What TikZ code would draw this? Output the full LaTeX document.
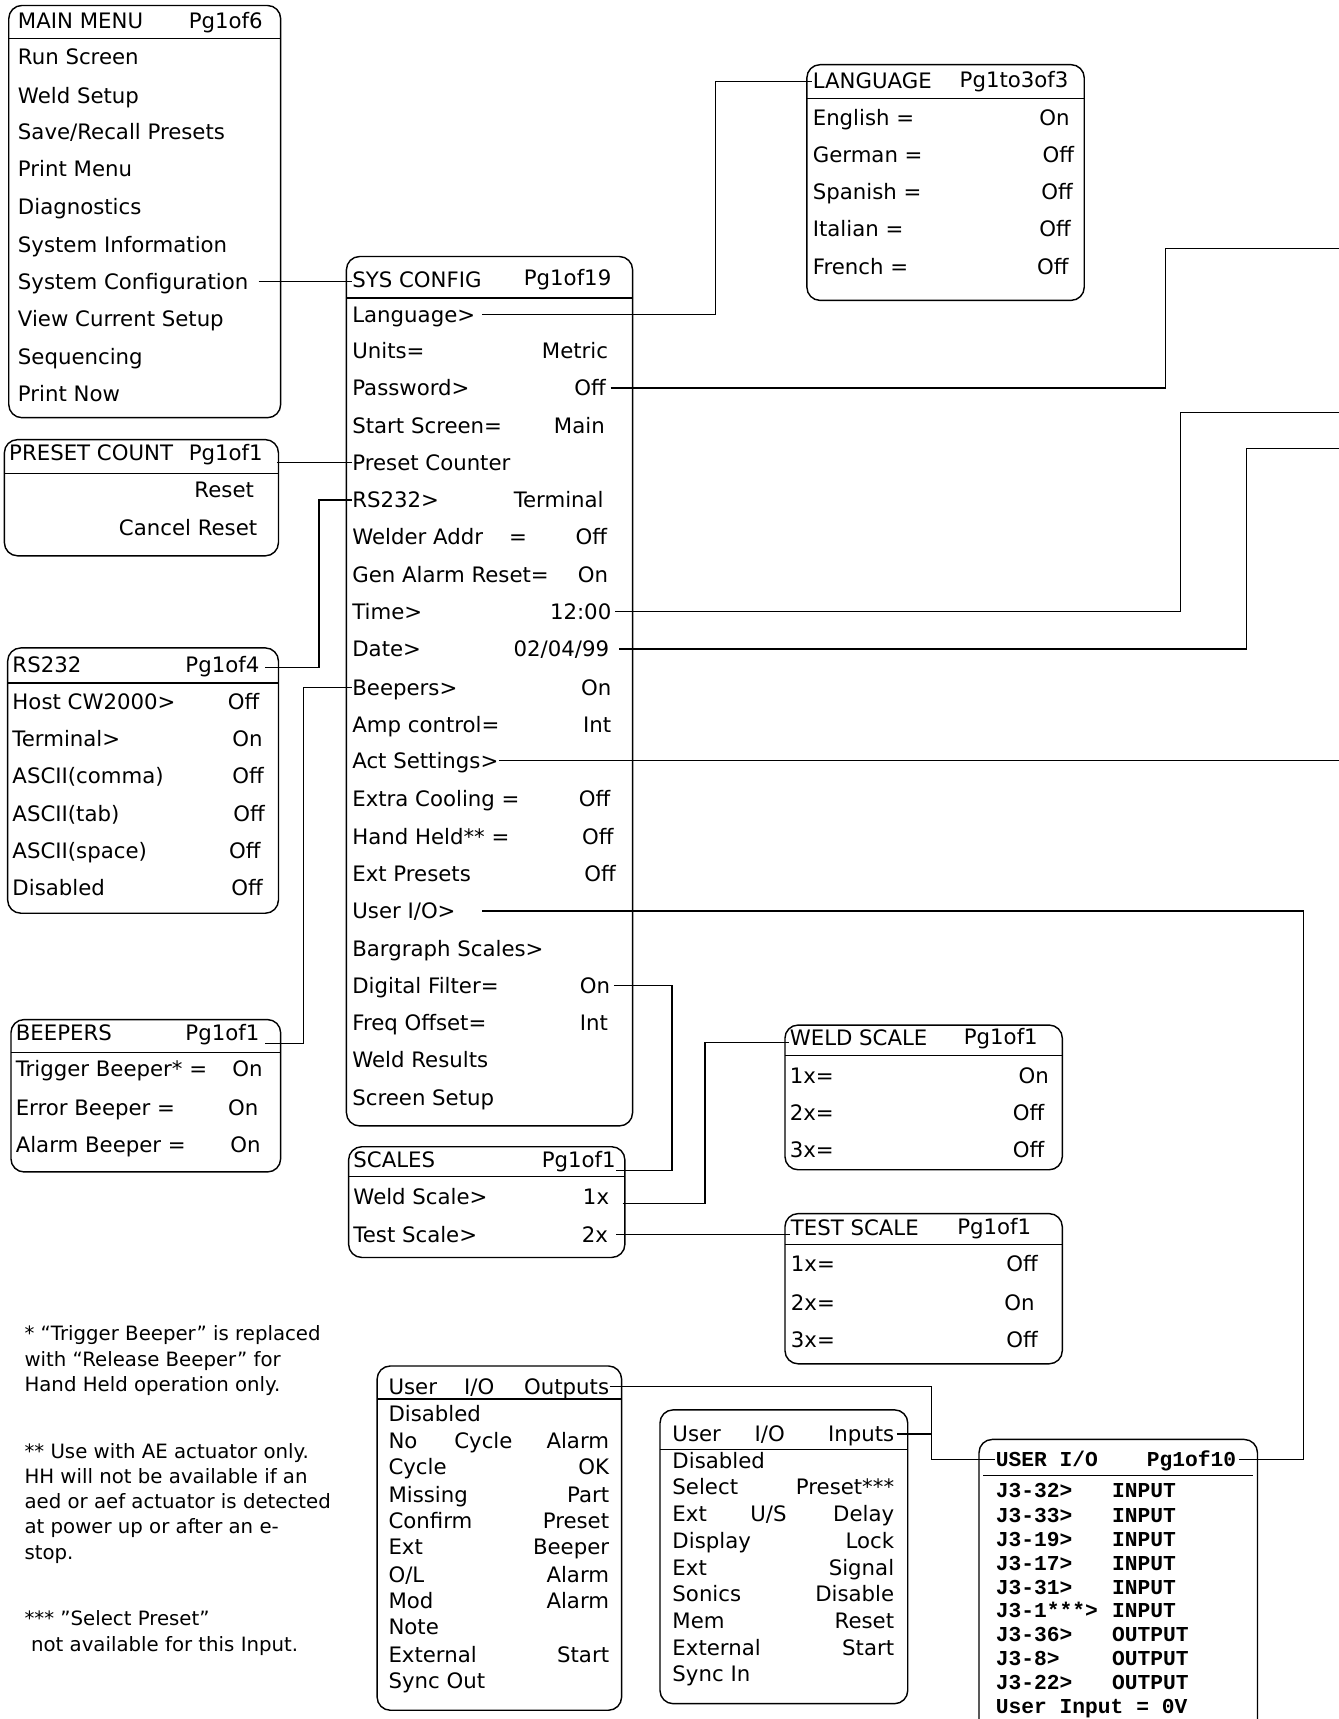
\documentclass[tikz,border=0pt]{standalone}
\usepackage{fontspec}
\newfontfamily\vf{DejaVu Sans}
\newfontfamily\mono{Liberation Mono}
\begin{document}
\begin{tikzpicture}[x=0.5pt,y=-0.5pt,
  menubox/.style={draw, line width=0.65pt, rounded corners=6pt},
  hline/.style={draw, line width=0.65pt},
  conn/.style={draw, line width=0.55pt},
  txtL/.style={inner sep=0pt, text height=7.07pt, text depth=0pt, anchor=west, font=\vf\fontsize{9.7}{11.6}\selectfont},
  txtR/.style={txtL, anchor=east},
  monoL/.style={inner sep=0pt, text height=6.3pt, text depth=0pt, anchor=west, font=\mono\bfseries\fontsize{9.7}{11.6}\selectfont},
  monoR/.style={monoL, anchor=east},
  notetxt/.style={inner sep=0pt, anchor=north west, align=left, font=\vf\fontsize{9.0}{11.5}\selectfont}]
\useasboundingbox (0,0) rectangle (1221,1568);

% ---------------- MAIN MENU
\draw[menubox] (8,5) rectangle (256,381);
\draw[hline] (8,35) -- (256,35);
\node[txtL] (mmT) at (16,19) {MAIN MENU};
\node[txtR] (mmP) at (240,19) {Pg1of6};
\node[txtL] (mm1) at (16,52) {Run Screen};
\node[txtL] (mm2) at (16,87) {Weld Setup};
\node[txtL] (mm3) at (16,120) {Save/Recall Presets};
\node[txtL] (mm4) at (16,154) {Print Menu};
\node[txtL] (mm5) at (16,189) {Diagnostics};
\node[txtL] (mm6) at (16,223) {System Information};
\node[txtL] (mm7) at (16,257) {System Configuration};
\node[txtL] (mm8) at (16,291) {View Current Setup};
\node[txtL] (mm9) at (16,325) {Sequencing};
\node[txtL] (mm10) at (16,359) {Print Now};

% ---------------- SYS CONFIG
\draw[menubox] (316,234) rectangle (577,1027);
\draw[hline] (316,272) -- (577,272);
\node[txtL] (scT) at (321,255) {SYS CONFIG};
\node[txtR] (scP) at (558,253) {Pg1of19};
\node[txtL] (sc1) at (321,287) {Language>};
\node[txtL] (sc2) at (321,320) {Units=};
\node[txtR] (sc2v) at (555,320) {Metric};
\node[txtL] (sc3) at (321,354) {Password>};
\node[txtR] (sc3v) at (553,354) {Off};
\node[txtL] (sc4) at (321,388) {Start Screen=};
\node[txtR] (sc4v) at (552,388) {Main};
\node[txtL] (sc5) at (321,422) {Preset Counter};
\node[txtL] (sc6) at (321,456) {RS232>};
\node[txtR] (sc6v) at (551,456) {Terminal};
\node[txtL] (sc7) at (321,490) {Welder Addr};
\node[txtL] (sc7e) at (464,490) {=};
\node[txtR] (sc7v) at (554,490) {Off};
\node[txtL] (sc8) at (321,524) {Gen Alarm Reset=};
\node[txtR] (sc8v) at (555,524) {On};
\node[txtL] (sc9) at (321,558) {Time>};
\node[txtR] (sc9v) at (558,558) {12:00};
\node[txtL] (sc10) at (321,592) {Date>};
\node[txtR] (sc10v) at (556,592) {02/04/99};
\node[txtL] (sc11) at (321,627) {Beepers>};
\node[txtR] (sc11v) at (558,627) {On};
\node[txtL] (sc12) at (321,661) {Amp control=};
\node[txtR] (sc12v) at (558,661) {Int};
\node[txtL] (sc13) at (321,694) {Act Settings>};
\node[txtL] (sc14) at (321,729) {Extra Cooling =};
\node[txtR] (sc14v) at (557,729) {Off};
\node[txtL] (sc15) at (321,763) {Hand Held** =};
\node[txtR] (sc15v) at (560,763) {Off};
\node[txtL] (sc16) at (321,797) {Ext Presets};
\node[txtR] (sc16v) at (562,797) {Off};
\node[txtL] (sc17) at (321,831) {User I/O>};
\node[txtL] (sc18) at (321,865) {Bargraph Scales>};
\node[txtL] (sc19) at (321,899) {Digital Filter=};
\node[txtR] (sc19v) at (557,899) {On};
\node[txtL] (sc20) at (321,933) {Freq Offset=};
\node[txtR] (sc20v) at (555,933) {Int};
\node[txtL] (sc21) at (321,967) {Weld Results};
\node[txtL] (sc22) at (321,1001) {Screen Setup};

% ---------------- LANGUAGE
\draw[menubox] (736,59) rectangle (989,274);
\draw[hline] (736,90) -- (989,90);
\node[txtL] (lgT) at (741,74) {LANGUAGE};
\node[txtR] (lgP) at (975,73) {Pg1to3of3};
\node[txtL] (lg1) at (741,107) {English =};
\node[txtR] (lg1v) at (976,107) {On};
\node[txtL] (lg2) at (741,141) {German =};
\node[txtR] (lg2v) at (980,141) {Off};
\node[txtL] (lg3) at (741,175) {Spanish =};
\node[txtR] (lg3v) at (979,175) {Off};
\node[txtL] (lg4) at (741,209) {Italian =};
\node[txtR] (lg4v) at (977,209) {Off};
\node[txtL] (lg5) at (741,243) {French =};
\node[txtR] (lg5v) at (975,243) {Off};

% ---------------- PRESET COUNT
\draw[menubox] (4,401) rectangle (254,507);
\draw[hline] (4,432) -- (254,432);
\node[txtL] (pcT) at (8,413) {PRESET COUNT};
\node[txtR] (pcP) at (240,413) {Pg1of1};
\node[txtR] (pc1) at (232,447) {Reset};
\node[txtR] (pc2) at (235,481) {Cancel Reset};

% ---------------- RS232
\draw[menubox] (7,591) rectangle (254,833);
\draw[hline] (7,623) -- (254,623);
\node[txtL] (rsT) at (11,606) {RS232};
\node[txtR] (rsP) at (237,606) {Pg1of4};
\node[txtL] (rs1) at (11,640) {Host CW2000>};
\node[txtR] (rs1v) at (237,640) {Off};
\node[txtL] (rs2) at (11,674) {Terminal>};
\node[txtR] (rs2v) at (240,674) {On};
\node[txtL] (rs3) at (11,708) {ASCII(comma)};
\node[txtR] (rs3v) at (241,708) {Off};
\node[txtL] (rs4) at (11,742) {ASCII(tab)};
\node[txtR] (rs4v) at (242,742) {Off};
\node[txtL] (rs5) at (11,776) {ASCII(space)};
\node[txtR] (rs5v) at (238,776) {Off};
\node[txtL] (rs6) at (11,810) {Disabled};
\node[txtR] (rs6v) at (240,810) {Off};

% ---------------- BEEPERS
\draw[menubox] (10,930) rectangle (256,1069);
\draw[hline] (10,960) -- (256,960);
\node[txtL] (bpT) at (14,942) {BEEPERS};
\node[txtR] (bpP) at (237,942) {Pg1of1};
\node[txtL] (bp1) at (14,975) {Trigger Beeper* =};
\node[txtR] (bp1v) at (240,975) {On};
\node[txtL] (bp2) at (14,1010) {Error Beeper =};
\node[txtR] (bp2v) at (236,1010) {On};
\node[txtL] (bp3) at (14,1044) {Alarm Beeper =};
\node[txtR] (bp3v) at (238,1044) {On};

% ---------------- SCALES
\draw[menubox] (318,1046) rectangle (570,1147);
\draw[hline] (318,1073) -- (570,1073);
\node[txtL] (slT) at (322,1058) {SCALES};
\node[txtR] (slP) at (562,1058) {Pg1of1};
\node[txtL] (sl1) at (322,1092) {Weld Scale>};
\node[txtR] (sl1v) at (556,1092) {1x};
\node[txtL] (sl2) at (322,1126) {Test Scale>};
\node[txtR] (sl2v) at (555,1126) {2x};

% ---------------- WELD SCALE
\draw[menubox] (716,935) rectangle (969,1067);
\draw[hline] (716,963) -- (969,963);
\node[txtL] (wsT) at (720,947) {WELD SCALE};
\node[txtR] (wsP) at (947,946) {Pg1of1};
\node[txtL] (ws1) at (720,981) {1x=};
\node[txtR] (ws1v) at (957,981) {On};
\node[txtL] (ws2) at (720,1015) {2x=};
\node[txtR] (ws2v) at (953,1015) {Off};
\node[txtL] (ws3) at (720,1049) {3x=};
\node[txtR] (ws3v) at (953,1049) {Off};

% ---------------- TEST SCALE
\draw[menubox] (716,1107) rectangle (969,1244);
\draw[hline] (716,1135) -- (969,1135);
\node[txtL] (tsT) at (721,1120) {TEST SCALE};
\node[txtR] (tsP) at (941,1119) {Pg1of1};
\node[txtL] (ts1) at (721,1153) {1x=};
\node[txtR] (ts1v) at (947,1153) {Off};
\node[txtL] (ts2) at (721,1188) {2x=};
\node[txtR] (ts2v) at (944,1188) {On};
\node[txtL] (ts3) at (721,1222) {3x=};
\node[txtR] (ts3v) at (947,1222) {Off};

% ---------------- USER I/O OUTPUTS
\draw[menubox] (344,1246) rectangle (567,1560);
\draw[hline] (344,1276) -- (567,1276);
\node[txtL] (oT1) at (354,1265) {User};
\node[txtL] (oT2) at (423,1265) {I/O};
\node[txtR] (oT3) at (556,1265) {Outputs};
\node[txtL] (o1) at (354,1290) {Disabled};
\node[txtL] (o2) at (354,1314) {No};
\node[txtL] (o2b) at (414,1314) {Cycle};
\node[txtR] (o2v) at (556,1314) {Alarm};
\node[txtL] (o3) at (354,1338) {Cycle};
\node[txtR] (o3v) at (556,1338) {OK};
\node[txtL] (o4) at (354,1363) {Missing};
\node[txtR] (o4v) at (556,1363) {Part};
\node[txtL] (o5) at (354,1387) {Confirm};
\node[txtR] (o5v) at (556,1387) {Preset};
\node[txtL] (o6) at (354,1411) {Ext};
\node[txtR] (o6v) at (556,1411) {Beeper};
\node[txtL] (o7) at (354,1436) {O/L};
\node[txtR] (o7v) at (556,1436) {Alarm};
\node[txtL] (o8) at (354,1460) {Mod};
\node[txtR] (o8v) at (556,1460) {Alarm};
\node[txtL] (o9) at (354,1484) {Note};
\node[txtL] (o10) at (354,1509) {External};
\node[txtR] (o10v) at (556,1509) {Start};
\node[txtL] (o11) at (354,1533) {Sync Out};

% ---------------- USER I/O INPUTS
\draw[menubox] (602,1286) rectangle (828,1554);
\draw[hline] (602,1322) -- (828,1322);
\node[txtL] (iT1) at (613,1308) {User};
\node[txtL] (iT2) at (688,1308) {I/O};
\node[txtR] (iT3) at (816,1308) {Inputs};
\node[txtL] (i1) at (613,1332) {Disabled};
\node[txtL] (i2) at (613,1356) {Select};
\node[txtR] (i2v) at (816,1356) {Preset***};
\node[txtL] (i3) at (613,1381) {Ext};
\node[txtL] (i3b) at (684,1381) {U/S};
\node[txtR] (i3v) at (816,1381) {Delay};
\node[txtL] (i4) at (613,1405) {Display};
\node[txtR] (i4v) at (816,1405) {Lock};
\node[txtL] (i5) at (613,1430) {Ext};
\node[txtR] (i5v) at (816,1430) {Signal};
\node[txtL] (i6) at (613,1454) {Sonics};
\node[txtR] (i6v) at (816,1454) {Disable};
\node[txtL] (i7) at (613,1478) {Mem};
\node[txtR] (i7v) at (816,1478) {Reset};
\node[txtL] (i8) at (613,1503) {External};
\node[txtR] (i8v) at (816,1503) {Start};
\node[txtL] (i9) at (613,1527) {Sync In};

% ---------------- USER I/O (mono)
\draw[menubox] (893,1313) rectangle (1147,1582);
\draw[hline] (897,1346) -- (1143,1346);
\node[monoL] (uT) at (908,1331) {USER I/O};
\node[monoR] (uP) at (1128,1331) {Pg1of10};
\node[monoL] (u1) at (908,1360) {J3-32>};
\node[monoL] (u1v) at (1014,1360) {INPUT};
\node[monoL] (u2) at (908,1382) {J3-33>};
\node[monoL] (u2v) at (1014,1382) {INPUT};
\node[monoL] (u3) at (908,1404) {J3-19>};
\node[monoL] (u3v) at (1014,1404) {INPUT};
\node[monoL] (u4) at (908,1426) {J3-17>};
\node[monoL] (u4v) at (1014,1426) {INPUT};
\node[monoL] (u5) at (908,1448) {J3-31>};
\node[monoL] (u5v) at (1014,1448) {INPUT};
\node[monoL] (u6) at (908,1469) {J3-1***>};
\node[monoL] (u6v) at (1014,1469) {INPUT};
\node[monoL] (u7) at (908,1491) {J3-36>};
\node[monoL] (u7v) at (1014,1491) {OUTPUT};
\node[monoL] (u8) at (908,1513) {J3-8>};
\node[monoL] (u8v) at (1014,1513) {OUTPUT};
\node[monoL] (u9) at (908,1535) {J3-22>};
\node[monoL] (u9v) at (1014,1535) {OUTPUT};
\node[monoL] (u10) at (908,1557) {User Input = 0V};

% ---------------- notes
\node[notetxt] (n1) at (22,1209) {* “Trigger Beeper” is replaced\\with “Release Beeper” for\\Hand Held operation only.};
\node[notetxt] (n2) at (22,1316) {** Use with AE actuator only.\\HH will not be available if an\\aed or aef actuator is detected\\at power up or after an e-\\stop.};
\node[notetxt] (n3) at (22,1469) {*** ”Select Preset”\\\hspace*{3pt}not available for this Input.};

% ---------------- connectors
\coordinate (kLang) at (653,74);
\coordinate (kPw) at (1063,227);
\coordinate (ePw) at (1221,227);
\coordinate (kTm) at (1077,376);
\coordinate (eTm) at (1221,376);
\coordinate (kDt) at (1137,409);
\coordinate (eDt) at (1221,409);
\coordinate (eAct) at (1221,694);
\coordinate (kUio) at (1189,1331);
\coordinate (kRs) at (291,609);
\coordinate (kBp) at (277,952);
\coordinate (kDf) at (613,1068);
\coordinate (kWs) at (643,951);
\coordinate (kOut) at (850,1331);
\coordinate (pcE) at ([xshift=6.5pt]pcP.east);
\coordinate (rsE) at ([xshift=2.5pt]rsP.east);
\coordinate (bpE) at ([xshift=2.5pt]bpP.east);
\coordinate (wsS) at ([xshift=6pt,yshift=-3pt]sl1v.east);

\draw[conn] ([xshift=4.5pt]mm7.east) -- (mm7.east -| scT.west);
\draw[conn] ([xshift=3pt]sc1.east) -| (kLang) -- (lgT.west);
\draw[conn] ([xshift=2pt]sc3v.east) -| (kPw) -- (ePw);
\draw[conn] ([xshift=1.5pt]sc9v.east) -| (kTm) -- (eTm);
\draw[conn] ([xshift=4.5pt]sc10v.east) -| (kDt) -- (eDt);
\draw[conn] (sc13.east) -- (sc13.east -| eAct);
\draw[conn] ([xshift=12pt]sc17.east) -| (kUio) -- ([xshift=1pt]uP.east);
\draw[conn] (pcE |- sc5.west) -- (sc5.west);
\draw[conn] (sc6.west) -| (kRs) -- (kRs -| rsE);
\draw[conn] (sc11.west) -| (kBp) -- (kBp -| bpE);
\draw[conn] ([xshift=1.5pt]sc19v.east) -| (kDf) -- (kDf -| slP.east);
\draw[conn] (wsS) -| (kWs) -- (kWs -| wsT.west);
\draw[conn] ([xshift=3.5pt]sl2v.east) -- (sl2v.east -| tsT.west);
\draw[conn] (oT3.east) -| (kOut) -- (kOut -| uT.west);
\draw[conn] ([xshift=1pt]iT3.east) -- (iT3.east -| kOut);
\end{tikzpicture}
\end{document}
